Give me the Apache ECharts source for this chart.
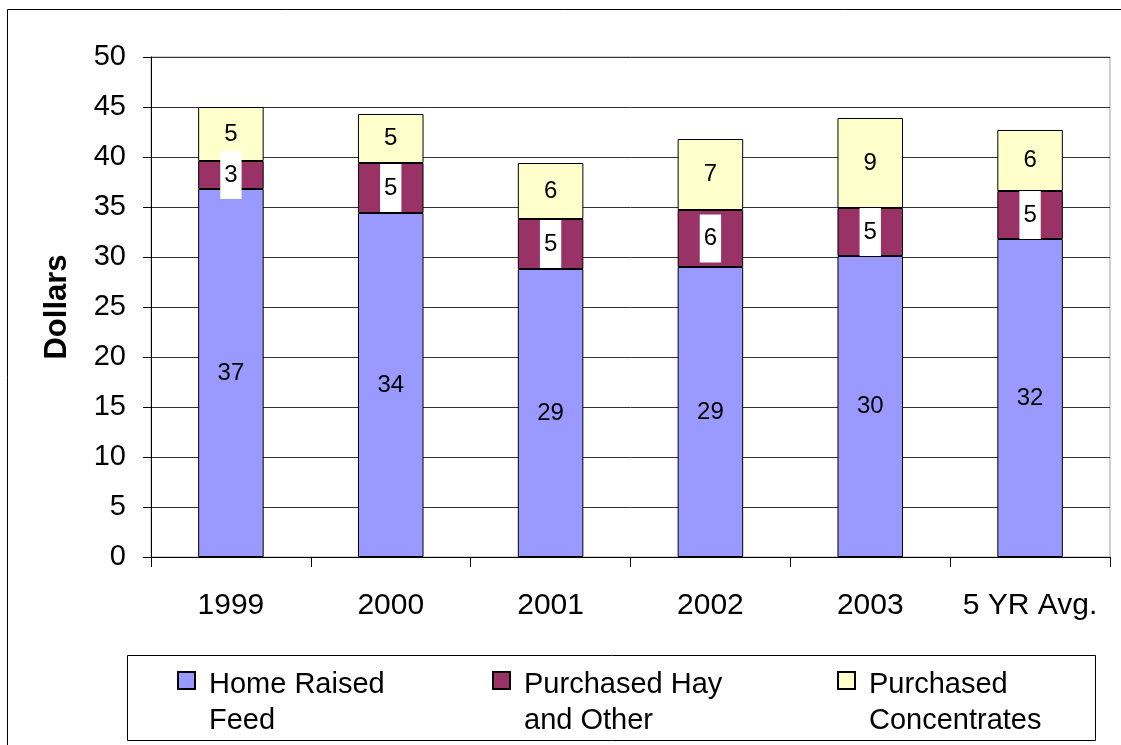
<!DOCTYPE html>
<html>
<head>
<meta charset="utf-8">
<script src="https://cdn.jsdelivr.net/npm/echarts@6/dist/echarts.min.js"></script>
<style>
  html, body { margin: 0; padding: 0; background: #fff; }
  #chart { width: 1121px; height: 745px; }
</style>
</head>
<body>
<div id="chart"></div>
<script>
// feed costs per cow, dollars
const years = ['1999', '2000', '2001', '2002', '2003', '5 YR Avg.'];
const homeRaised = [36.8, 34.4, 28.8, 29.0, 30.1, 31.8];
const purchasedHay = [2.8, 5.0, 5.0, 5.7, 4.8, 4.8];
const concentrates = [5.4, 4.9, 5.6, 7.1, 9.0, 6.1];
const yTicks = { min: 0, max: 50, step: 5 };

const font = 'Liberation Sans, Arial, sans-serif';
const legendLines = {
    'Home Raised Feed': 'Home Raised\nFeed',
    'Purchased Hay and Other': 'Purchased Hay\nand Other',
    'Purchased Concentrates': 'Purchased\nConcentrates'
};
// square sits next to the first line of the two-line name
const legendIcon = 'path://M0,0L0,0M0,6L17,6L17,23L0,23ZM26,74L26,74';

const makeLegend = (name, left) => ({
    data: [name],
    left: left,
    top: 665,
    padding: 0,
    icon: legendIcon,
    itemWidth: 26,
    itemHeight: 74,
    selectedMode: false,
    formatter: n => legendLines[n],
    textStyle: { fontSize: 29, lineHeight: 36, color: '#000', fontFamily: font }
});

const segment = (name, data, color, boxed) => ({
    name: name,
    type: 'bar',
    stack: 'cost',
    barWidth: '41%',
    data: data,
    itemStyle: { color: color, borderColor: '#000', borderWidth: 1 },
    label: {
        show: true,
        position: 'inside',
        formatter: p => Math.round(p.value),
        fontSize: 24,
        color: '#000',
        fontFamily: font,
        backgroundColor: boxed ? '#fff' : 'transparent',
        padding: boxed ? [12, 4] : 0
    }
});

const chart = echarts.init(document.getElementById('chart'));
chart.setOption({
    animation: false,
    backgroundColor: '#fff',
    textStyle: { fontFamily: font },
    graphic: [
        { type: 'rect', shape: { x: 7.5, y: 9.5, width: 1200, height: 900 },
          style: { fill: 'none', stroke: '#000', lineWidth: 1 }, silent: true },
        { type: 'rect', shape: { x: 127.5, y: 655.5, width: 968, height: 85 },
          style: { fill: '#fff', stroke: '#000', lineWidth: 1 }, silent: true, z: -1 }
    ],
    legend: [
        makeLegend('Home Raised Feed', 177),
        makeLegend('Purchased Hay and Other', 492),
        makeLegend('Purchased Concentrates', 837)
    ],
    grid: {
        left: 151, right: 11, top: 57, bottom: 188,
        show: true, borderColor: '#a0a0a0', borderWidth: 1, backgroundColor: 'transparent'
    },
    xAxis: {
        type: 'category',
        data: years,
        axisLine: { lineStyle: { color: '#000', width: 1 } },
        axisTick: { show: true, interval: 0, length: 10, lineStyle: { color: '#000' } },
        axisLabel: { interval: 0, margin: 34, fontSize: 30, color: '#000', fontFamily: font }
    },
    yAxis: {
        type: 'value',
        min: yTicks.min,
        max: yTicks.max,
        interval: yTicks.step,
        name: 'Dollars',
        nameLocation: 'middle',
        nameGap: 78,
        nameTextStyle: { fontSize: 31, fontWeight: 'bold', color: '#000', fontFamily: font },
        axisLine: { show: true, lineStyle: { color: '#000', width: 1 } },
        axisTick: { show: true, length: 8, lineStyle: { color: '#000' } },
        axisLabel: { margin: 25, fontSize: 29, color: '#000', fontFamily: font },
        splitLine: { lineStyle: { color: '#333', width: 1 } }
    },
    series: [
        segment('Home Raised Feed', homeRaised, '#9999ff', false),
        segment('Purchased Hay and Other', purchasedHay, '#993366', true),
        segment('Purchased Concentrates', concentrates, '#ffffcc', false)
    ]
});
</script>
</body>
</html>
